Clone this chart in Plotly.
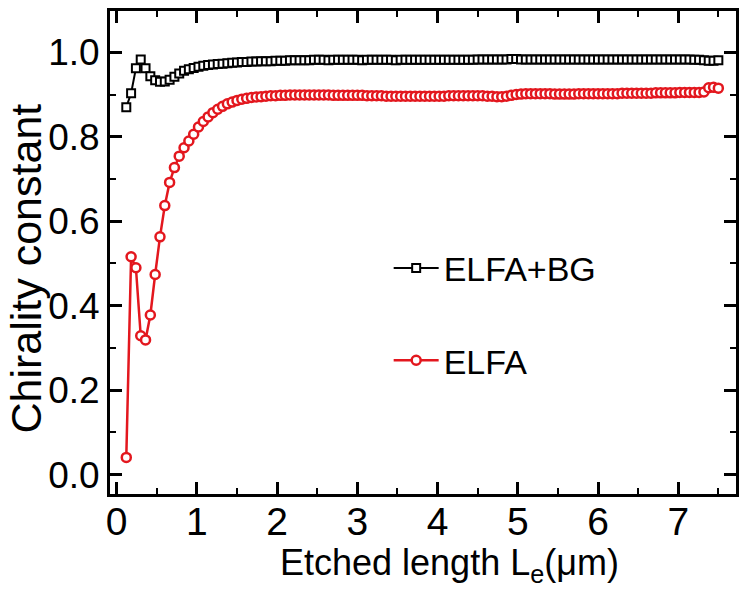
import plotly.graph_objects as go

# Etched length sampling grid (um)
x_start, x_step, n_pts = 0.12, 0.06, 124
etched_length = [round(x_start + x_step * i, 2) for i in range(n_pts)]

# Chirality constant, ELFA + Bragg grating
chirality_elfa_bg = [
    0.870, 0.903, 0.962, 0.983, 0.962, 0.943, 0.934, 0.930, 0.931, 0.935,
    0.942, 0.950, 0.956, 0.960, 0.963, 0.966, 0.968, 0.970, 0.971, 0.972,
    0.973, 0.974, 0.975, 0.976, 0.977, 0.977, 0.978, 0.978, 0.979, 0.979,
    0.979, 0.980, 0.980, 0.980, 0.981, 0.981, 0.981, 0.981, 0.981, 0.982,
    0.982, 0.982, 0.981, 0.982, 0.982, 0.982, 0.982, 0.982, 0.982, 0.981,
    0.982, 0.982, 0.982, 0.982, 0.982, 0.982, 0.981, 0.982, 0.982, 0.982,
    0.982, 0.982, 0.982, 0.982, 0.982, 0.982, 0.982, 0.982, 0.982, 0.982,
    0.982, 0.982, 0.982, 0.983, 0.983, 0.983, 0.983, 0.983, 0.983, 0.983,
    0.984, 0.984, 0.983, 0.983, 0.983, 0.983, 0.983, 0.983, 0.983, 0.983,
    0.983, 0.983, 0.983, 0.983, 0.983, 0.983, 0.983, 0.983, 0.983, 0.983,
    0.983, 0.983, 0.983, 0.983, 0.983, 0.983, 0.983, 0.983, 0.983, 0.983,
    0.983, 0.983, 0.983, 0.983, 0.983, 0.983, 0.983, 0.983, 0.982, 0.982,
    0.981, 0.980, 0.980, 0.981,
]

# Chirality constant, ELFA only
chirality_elfa = [
    0.041, 0.516, 0.490, 0.329, 0.319, 0.378, 0.474, 0.563, 0.637, 0.692,
    0.727, 0.754, 0.774, 0.790, 0.806, 0.823, 0.836, 0.847, 0.857, 0.865,
    0.872, 0.878, 0.882, 0.886, 0.889, 0.891, 0.893, 0.894, 0.895, 0.896,
    0.897, 0.897, 0.898, 0.898, 0.899, 0.899, 0.899, 0.899, 0.899, 0.899,
    0.899, 0.899, 0.899, 0.898, 0.898, 0.898, 0.898, 0.898, 0.898, 0.898,
    0.897, 0.897, 0.897, 0.897, 0.896, 0.896, 0.896, 0.896, 0.896, 0.896,
    0.896, 0.896, 0.896, 0.896, 0.896, 0.896, 0.896, 0.897, 0.897, 0.897,
    0.897, 0.897, 0.897, 0.897, 0.897, 0.896, 0.896, 0.895, 0.895, 0.896,
    0.898, 0.900, 0.901, 0.902, 0.902, 0.902, 0.902, 0.902, 0.902, 0.901,
    0.901, 0.901, 0.901, 0.901, 0.902, 0.902, 0.902, 0.902, 0.902, 0.902,
    0.902, 0.902, 0.902, 0.903, 0.903, 0.903, 0.903, 0.903, 0.903, 0.903,
    0.904, 0.904, 0.904, 0.904, 0.904, 0.905, 0.905, 0.905, 0.905, 0.905,
    0.906, 0.916, 0.917, 0.915,
]

x_ticks = [0, 1, 2, 3, 4, 5, 6, 7]
y_ticks = [0.0, 0.2, 0.4, 0.6, 0.8, 1.0]

RED = "#e3171e"
SANS = "Liberation Sans, Arial, sans-serif"

fig = go.Figure()
fig.add_trace(go.Scatter(
    x=etched_length, y=chirality_elfa_bg, name="ELFA+BG", legendgroup="a",
    mode="lines+markers",
    line=dict(color="black", width=2),
    marker=dict(symbol="square", size=8, color="white",
                line=dict(color="black", width=2)),
))
fig.add_trace(go.Scatter(
    x=etched_length, y=chirality_elfa, name="ELFA", legendgroup="b",
    mode="lines+markers",
    line=dict(color=RED, width=2.5),
    marker=dict(symbol="circle", size=9, color="white",
                line=dict(color=RED, width=2.5)),
))

axis_common = dict(
    showline=True, linecolor="black", linewidth=3, mirror="allticks",
    ticks="inside", ticklen=12, tickwidth=2.5, tickcolor="black",
    showgrid=False, zeroline=False,
)

fig.update_xaxes(
    **axis_common,
    range=[-0.083, 7.72], tickvals=x_ticks,
    tickfont=dict(family=SANS, size=39, color="black"),
    ticklabelstandoff=-9,
    minor=dict(ticks="inside", ticklen=6, tickwidth=2, dtick=0.5,
               tick0=0, tickcolor="black", showgrid=False),
)
fig.update_yaxes(
    **axis_common,
    range=[-0.0457, 1.0977], tickvals=y_ticks, tickformat=".1f",
    tickfont=dict(family=SANS, size=37, color="black"),
    minor=dict(ticks="inside", ticklen=6, tickwidth=2, dtick=0.1,
               tick0=0, tickcolor="black", showgrid=False),
)

fig.add_annotation(
    text="Etched length L<sub>e</sub>(μm)", xref="paper", yref="paper",
    x=0.542, y=-0.095, xanchor="center", yanchor="top", showarrow=False,
    font=dict(family=SANS, size=36, color="black"),
)
fig.add_annotation(
    text="Chirality constant", xref="paper", yref="paper", textangle=-90,
    x=-0.134, y=0.467, xanchor="center", yanchor="middle", showarrow=False,
    font=dict(family=SANS, size=43, color="black"),
)

fig.update_layout(
    width=739, height=590,
    margin=dict(l=110, r=0, t=11, b=96),
    paper_bgcolor="white", plot_bgcolor="white",
    showlegend=True,
    legend=dict(
        x=(390 - 110) / 629, y=0.527, xanchor="left", yanchor="top",
        bgcolor="rgba(0,0,0,0)", borderwidth=0,
        font=dict(family=SANS, size=34, color="black"),
        itemwidth=45, tracegroupgap=45,
    ),
)

fig.write_html("out.html")
